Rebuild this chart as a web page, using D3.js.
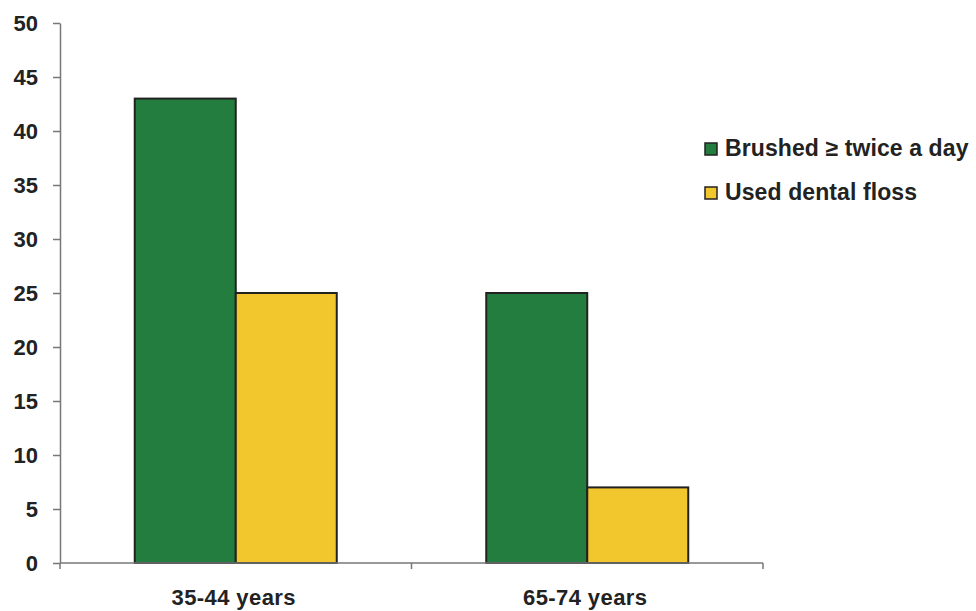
<!DOCTYPE html>
<html>
<head>
<meta charset="utf-8">
<script src="https://cdn.jsdelivr.net/npm/d3@7"></script>
<style>
  body { margin: 0; background: #fff; }
  svg text { font-family: "Liberation Sans", Arial, sans-serif; font-weight: bold; fill: #222; }
</style>
</head>
<body>
<svg id="chart" width="976" height="611"></svg>
<script>
// data
const ageGroups = ["35-44 years", "65-74 years"]
const seriesNames = ["Brushed ≥ twice a day", "Used dental floss"]
const brushedTwice = [43, 25]
const usedFloss = [25, 7]
const yTicks = [0, 5, 10, 15, 20, 25, 30, 35, 40, 45, 50]

const colors = ["#237d3e", "#f2c72e"]

const svg = d3.select("#chart")
const plotLeft = 60, plotRight = 763, plotTop = 23, plotBottom = 563

const x0 = d3.scaleBand().domain(ageGroups).range([plotLeft, plotRight]).padding(0)
const x1 = d3.scaleBand().domain(seriesNames).range([0, x0.bandwidth()])
  .paddingInner(0).paddingOuter(0.74)
const y = d3.scaleLinear().domain([0, 50]).range([plotBottom, plotTop])

const rows = ageGroups.map((g, i) => ({ group: g, values: [brushedTwice[i], usedFloss[i]] }))

// bars
svg.append("g").selectAll("g")
  .data(rows)
  .join("g")
  .attr("transform", d => `translate(${x0(d.group)},0)`)
  .selectAll("rect")
  .data(d => d.values.map((v, j) => ({ key: seriesNames[j], value: v, j: j })))
  .join("rect")
  .attr("x", d => x1(d.key))
  .attr("y", d => y(d.value))
  .attr("width", x1.bandwidth())
  .attr("height", d => plotBottom - y(d.value))
  .attr("fill", d => colors[d.j])
  .attr("stroke", "#222")
  .attr("stroke-width", 2)

// y axis
const yAxis = svg.append("g")
  .attr("transform", `translate(${plotLeft},0)`)
  .call(d3.axisLeft(y).tickValues(yTicks).tickSize(7).tickPadding(15).tickSizeOuter(0))
yAxis.select(".domain").attr("stroke", "#777").attr("stroke-width", 1.5)
yAxis.selectAll(".tick line").attr("stroke", "#777").attr("stroke-width", 1.5)
yAxis.selectAll(".tick text").style("font-size", "22px").attr("dy", "0.35em")

// x axis, ticks at band edges
const xAxis = svg.append("g").attr("transform", `translate(0,${plotBottom})`)
xAxis.append("line").attr("x1", plotLeft).attr("x2", plotRight)
  .attr("stroke", "#777").attr("stroke-width", 1.5)
const edges = ageGroups.map(g => x0(g)).concat([x0(ageGroups[ageGroups.length - 1]) + x0.bandwidth()])
xAxis.selectAll(".edge").data(edges).join("line")
  .attr("class", "edge")
  .attr("x1", d => d).attr("x2", d => d).attr("y1", 0).attr("y2", 6)
  .attr("stroke", "#777").attr("stroke-width", 1.5)
// kept a little higher than the source so the descenders are not cut
xAxis.selectAll(".lbl").data(ageGroups).join("text")
  .attr("class", "lbl")
  .attr("x", d => x0(d) + x0.bandwidth() / 2 - 2)
  .attr("y", 42)
  .attr("text-anchor", "middle")
  .style("font-size", "22px")
  .style("letter-spacing", "0.4px")
  .text(d => d)

// legend
const legend = svg.append("g").attr("transform", "translate(705,143)")
const item = legend.selectAll("g").data(seriesNames).join("g")
  .attr("transform", (d, i) => `translate(0,${i * 44})`)
item.append("rect")
  .attr("width", 12).attr("height", 12)
  .attr("fill", (d, i) => colors[i])
  .attr("stroke", "#222").attr("stroke-width", 1.5)
item.append("text")
  .attr("x", 20).attr("y", 13)
  .style("font-size", "23px")
  .style("letter-spacing", "0.1px")
  .text(d => d)
</script>
</body>
</html>
